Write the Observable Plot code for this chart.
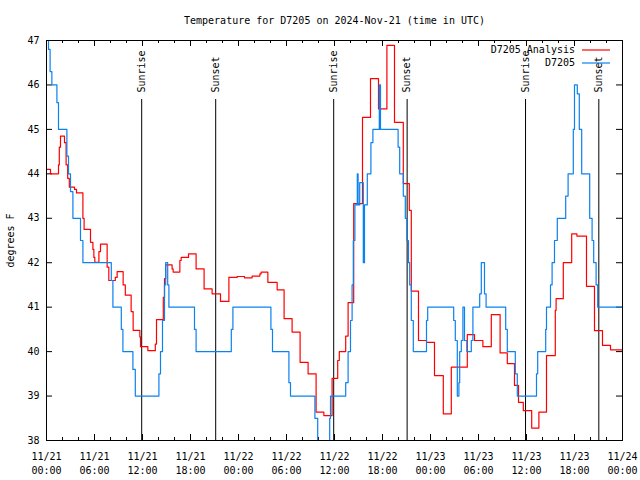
<!DOCTYPE html>
<html>
<head>
<meta charset="utf-8">
<script src="https://cdn.jsdelivr.net/npm/d3@7"></script>
<script src="https://cdn.jsdelivr.net/npm/@observablehq/plot@0.6"></script>
<style>
  html, body { margin: 0; padding: 0; background: white; }
</style>
</head>
<body>
<div id="chart"></div>
<script>
// ---- data (hours since 2024-11-21 00:00 UTC, temperature °F), drawn as steps ----
const titleText = "Temperature for D7205 on 2024-Nov-21 (time in UTC)";
const yLabel = "degrees F";
const seriesNames = ["D7205 Analysis", "D7205"];

const analysis = [
  [0, 44.1], [0.5, 44.0], [1.5, 44.2], [1.6, 44.6], [1.75, 44.85], [2.25, 44.7], [2.45, 44.2],
  [2.65, 43.9], [2.85, 43.7], [3.5, 43.65], [3.75, 43.57], [4.55, 43.0], [4.7, 42.75],
  [5.5, 42.46], [5.8, 42.3], [5.92, 42.12], [6.04, 42.01], [6.55, 42.25], [6.75, 42.42],
  [7.58, 41.9], [7.79, 41.6], [8.6, 41.67], [8.83, 41.8], [9.58, 41.5], [9.85, 41.27],
  [10.58, 40.9], [10.83, 40.48], [11.67, 40.33], [11.75, 40.11], [12.67, 40.02], [13.6, 40.17],
  [13.75, 40.72], [14.6, 41.22], [14.75, 41.64], [14.9, 41.95], [15.7, 41.86], [15.83, 41.79],
  [16.67, 42.05], [16.83, 42.12], [17.75, 42.2], [18.7, 41.86], [19.7, 41.41], [20.7, 41.3],
  [21.75, 41.13], [22.8, 41.67], [23.83, 41.69], [24.75, 41.66], [25.7, 41.7], [26.67, 41.75],
  [26.83, 41.79], [27.67, 41.56], [28.83, 41.39], [29.7, 40.74], [30.7, 40.44], [31.7, 39.76],
  [32.7, 39.5], [33.7, 38.64], [34.67, 38.56], [35.7, 39.4], [36.4, 39.8], [36.6, 40.0],
  [37.4, 40.35], [37.7, 41.1], [38.4, 43.33], [39.5, 45.27], [40.5, 46.14], [41.5, 45.46],
  [42.55, 46.89], [43.5, 45.16], [44.6, 43.78], [45.35, 43.18], [45.6, 41.36], [46.5, 40.25],
  [47.5, 40.21], [48.5, 39.46], [49.6, 38.6], [50.6, 39.65], [52.6, 40.38], [53.5, 40.25],
  [54.55, 40.11], [55.6, 40.83], [56.7, 39.97], [57.6, 39.73], [58.5, 39.24], [59.0, 38.86],
  [59.6, 38.67], [60.65, 38.28], [61.55, 38.64], [62.5, 39.91], [63.6, 40.93], [63.7, 41.19],
  [64.6, 42.0], [65.65, 42.65], [66.3, 42.6], [67.5, 41.47], [68.5, 40.47], [69.5, 40.14],
  [70.5, 40.04], [72, 40.0]
];

const observed = [
  [0, 47.3], [0.25, 46.8], [0.45, 46.3], [0.67, 46], [1.3, 45.6], [1.5, 45], [2.55, 44.4],
  [2.75, 44], [3.0, 43.6], [3.3, 43], [4.25, 42.5], [4.55, 42], [8.1, 41.6], [8.3, 41],
  [9.35, 40.5], [9.55, 40], [10.8, 39.6], [11.1, 39], [14.05, 39.5], [14.25, 40], [14.5, 40.7],
  [14.75, 41.5], [14.9, 42], [15.15, 41.5], [15.3, 41], [18.5, 40.5], [18.7, 40], [23.1, 40.5],
  [23.3, 41], [28.05, 40.5], [28.25, 40], [30.3, 39.3], [30.5, 39], [33.55, 38.5], [33.9, 37.5],
  [35.4, 38.5], [35.5, 39], [37.4, 39.3], [37.7, 40], [38.0, 40.7], [38.2, 41.5], [38.35, 42.5],
  [38.55, 43.3], [38.85, 44.0], [38.95, 43.3], [39.15, 43.8], [39.6, 42.0], [39.75, 43.3],
  [40.1, 44.0], [40.55, 44.7], [40.8, 45], [41.6, 46], [41.75, 45], [43.95, 44.6], [44.15, 44],
  [44.6, 43.5], [44.85, 43], [45.05, 42.5], [45.25, 42], [45.4, 41.5], [45.6, 40.7], [45.85, 40],
  [47.5, 40.7], [47.65, 41], [50.9, 40.7], [51.1, 40.25], [51.35, 39], [51.55, 39.3],
  [51.65, 40], [51.85, 40.25], [52.05, 41], [52.25, 40.25], [52.55, 40], [53.1, 40.25],
  [53.3, 41], [54.15, 41.3], [54.35, 42], [54.75, 41.3], [54.95, 41], [57.4, 40.5], [57.6, 40],
  [58.6, 39.5], [58.85, 39], [61.25, 39.5], [61.4, 40], [62.4, 40.5], [62.5, 41], [63.0, 41.5],
  [63.2, 42], [63.5, 42.5], [63.85, 43], [64.9, 43.5], [65.2, 44], [65.85, 45], [66.0, 46],
  [66.35, 45.8], [66.6, 45], [66.9, 44], [67.9, 43], [68.2, 42.5], [68.4, 42], [68.7, 41.5],
  [68.9, 41], [72, 41]
];

const sunHours = [11.9, 21.15, 35.9, 45.08, 59.88, 69.04];
const sunLabels = ["Sunrise", "Sunset", "Sunrise", "Sunset", "Sunrise", "Sunset"];

const xMajorTicks = [0, 6, 12, 18, 24, 30, 36, 42, 48, 54, 60, 66, 72];
const xTickLabels = [
  "11/21\n00:00", "11/21\n06:00", "11/21\n12:00", "11/21\n18:00",
  "11/22\n00:00", "11/22\n06:00", "11/22\n12:00", "11/22\n18:00",
  "11/23\n00:00", "11/23\n06:00", "11/23\n12:00", "11/23\n18:00",
  "11/24\n00:00"
];
const xMinorTicks = [2, 4, 8, 10, 14, 16, 20, 22, 26, 28, 32, 34, 38, 40, 44, 46, 50, 52, 56, 58, 62, 64, 68, 70];
const yTicks = [38, 39, 40, 41, 42, 43, 44, 45, 46, 47];

const colors = ["#ff0000", "#0a82f0"];

// ---- layout ----
const W = 640, H = 480;
const mT = 40, mR = 18, mB = 40, mL = 46;
const innerW = W - mL - mR, innerH = H - mT - mB;
const font = "'DejaVu Sans Mono', 'Liberation Mono', monospace";

const chart = Plot.plot({
  width: W, height: H,
  marginTop: mT, marginRight: mR, marginBottom: mB, marginLeft: mL,
  style: {fontFamily: font, fontSize: "10px", background: "white", color: "black"},
  x: {domain: [0, 72], axis: null},
  y: {domain: [38, 47], axis: null},
  marks: [
    // inward ticks on all four sides
    Plot.ruleX(xMajorTicks, {insetTop: innerH - 6, stroke: "black"}),
    Plot.ruleX(xMajorTicks, {insetBottom: innerH - 6, stroke: "black"}),
    Plot.ruleX(xMinorTicks, {insetTop: innerH - 3, stroke: "black"}),
    Plot.ruleX(xMinorTicks, {insetBottom: innerH - 3, stroke: "black"}),
    Plot.ruleY(yTicks, {insetRight: innerW - 6, stroke: "black"}),
    Plot.ruleY(yTicks, {insetLeft: innerW - 6, stroke: "black"}),
    // sunrise / sunset markers
    Plot.ruleX(sunHours, {insetTop: 59, stroke: "black"}),
    Plot.text(sunHours, {x: d => d, text: (d, i) => sunLabels[i], rotate: -90, frameAnchor: "top",
      textAnchor: "start", lineAnchor: "middle", dy: 52, fill: "black"}),
    // series
    Plot.line(analysis, {x: d => d[0], y: d => d[1], curve: "step-after", stroke: colors[0], strokeWidth: 1.2, clip: true}),
    Plot.line(observed, {x: d => d[0], y: d => d[1], curve: "step-after", stroke: colors[1], strokeWidth: 1.2, clip: true}),
    Plot.frame({stroke: "black"}),
    // axes labels
    Plot.axisX({ticks: xMajorTicks, tickFormat: (d, i) => xTickLabels[i], tickSize: 0, tickPadding: 10, lineHeight: 1.4, fill: "black"}),
    Plot.axisY({ticks: yTicks, tickSize: 0, tickPadding: 7, fill: "black"}),
    Plot.text([titleText], {frameAnchor: "top", lineAnchor: "middle", dy: -20, fill: "black"}),
    Plot.text([yLabel], {frameAnchor: "left", lineAnchor: "middle", textAnchor: "middle", rotate: -90, dx: -36, fill: "black"})
  ]
});

document.getElementById("chart").appendChild(chart);

// legend (top-right, inside the plot area)
const svg = d3.select(chart);
const lg = svg.append("g").attr("font-family", font).attr("font-size", 10);
seriesNames.forEach((name, i) => {
  const y = 50 + i * 13;
  lg.append("text").attr("x", 575).attr("y", y).attr("dy", "0.32em")
    .attr("text-anchor", "end").attr("fill", "black").text(name);
  lg.append("line").attr("x1", 582).attr("x2", 610).attr("y1", y).attr("y2", y)
    .attr("stroke", colors[i]).attr("stroke-width", 1.2);
});
</script>
</body>
</html>
